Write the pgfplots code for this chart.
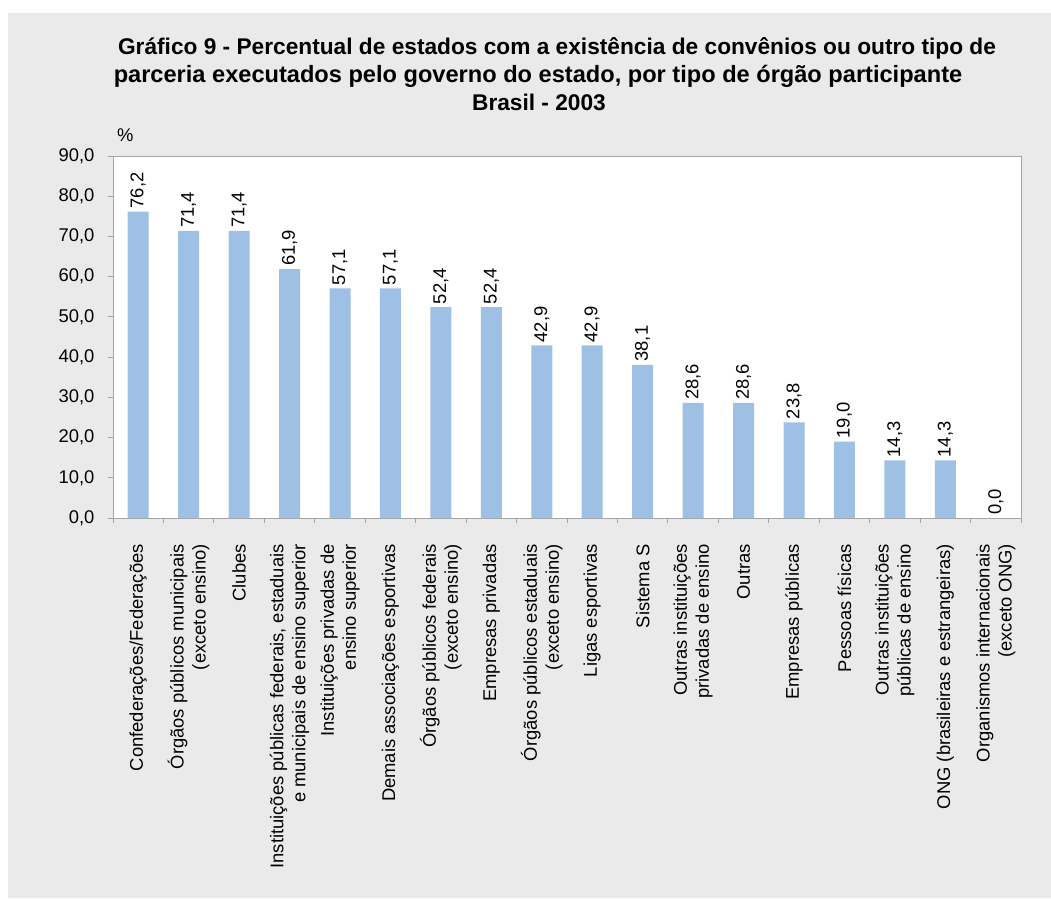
\documentclass[border=0pt]{standalone}
\usepackage{pgfplots}
\pgfplotsset{compat=1.18}
\usepackage{fontspec}
\setmainfont{Liberation Sans}
\definecolor{bg}{RGB}{234,234,234}
\definecolor{barc}{RGB}{158,192,229}
\definecolor{axc}{RGB}{165,165,165}
\newcommand{\lbl}{\fontsize{18.4}{22}\selectfont}
\begin{document}
\begin{tikzpicture}[x=1pt,y=1pt]
\fill[white] (0,0) rectangle (1051,898);
\fill[bg] (8,0) rectangle (1051,885);
\node[font=\fontsize{22.7}{28}\selectfont\bfseries, anchor=base] at (557,843) {Gráfico 9 - Percentual de estados com a existência de convênios ou outro tipo de};
\node[font=\fontsize{23.6}{28}\selectfont\bfseries, anchor=base] at (538,815) {parceria executados pelo governo do estado, por tipo de órgão participante};
\node[font=\fontsize{22.7}{28}\selectfont\bfseries, anchor=base] at (539,787) {Brasil - 2003};
\node[font=\lbl, anchor=base west, inner sep=0pt] at (117,756) {\%};
\begin{axis}[
  at={(113pt,380pt)}, anchor=south west,
  scale only axis, width=908pt, height=362pt,
  ymin=0, ymax=90, xmin=-0.5, xmax=17.5,
  ytick={0,10,...,90},
  ybar, bar width=21pt,
  axis background/.style={fill=white},
  axis line style={draw=axc, line width=0.8pt},
  tick style={draw=axc, line width=0.8pt},
  tick align=outside, tick pos=left,
  major tick length=5pt, minor tick length=5pt,
  xtick={0,...,17},
  minor xtick={-0.5,0.5,...,17.5},
  major x tick style={draw=none},
  /pgf/number format/assume math mode=true,
  yticklabel style={font=\lbl, xshift=-10pt, /pgf/number format/.cd, fixed, fixed zerofill, precision=1, use comma},
  xticklabel style={font=\lbl, rotate=90, anchor=east, align=right, inner sep=0pt, xshift=-21pt},
  xticklabels={
    Confederações/Federações,
    {Órgãos públicos municipais\\(exceto ensino)},
    Clubes,
    {Instituições públicas federais, estaduais\\e municipais de ensino superior},
    {Instituições privadas de\\ensino superior},
    Demais associações esportivas,
    {Órgãos públicos federais\\(exceto ensino)},
    Empresas privadas,
    {Órgãos públicos estaduais\\(exceto ensino)},
    Ligas esportivas,
    Sistema S,
    {Outras instituições\\privadas de ensino},
    Outras,
    Empresas públicas,
    Pessoas físicas,
    {Outras instituições\\públicas de ensino},
    {ONG (brasileiras e estrangeiras)},
    {Organismos internacionais\\(exceto ONG)}
  },
  nodes near coords={\pgfmathprintnumber[fixed,fixed zerofill,precision=1,use comma]{\pgfplotspointmeta}},
  nodes near coords style={font=\lbl, rotate=90, anchor=west, inner sep=3pt, text=black},
]
\addplot[fill=barc, draw=none] coordinates {
  (0,76.2) (1,71.4) (2,71.4) (3,61.9) (4,57.1) (5,57.1) (6,52.4) (7,52.4) (8,42.9)
  (9,42.9) (10,38.1) (11,28.6) (12,28.6) (13,23.8) (14,19.0) (15,14.3) (16,14.3) (17,0.0)
};
\end{axis}
\end{tikzpicture}
\end{document}
